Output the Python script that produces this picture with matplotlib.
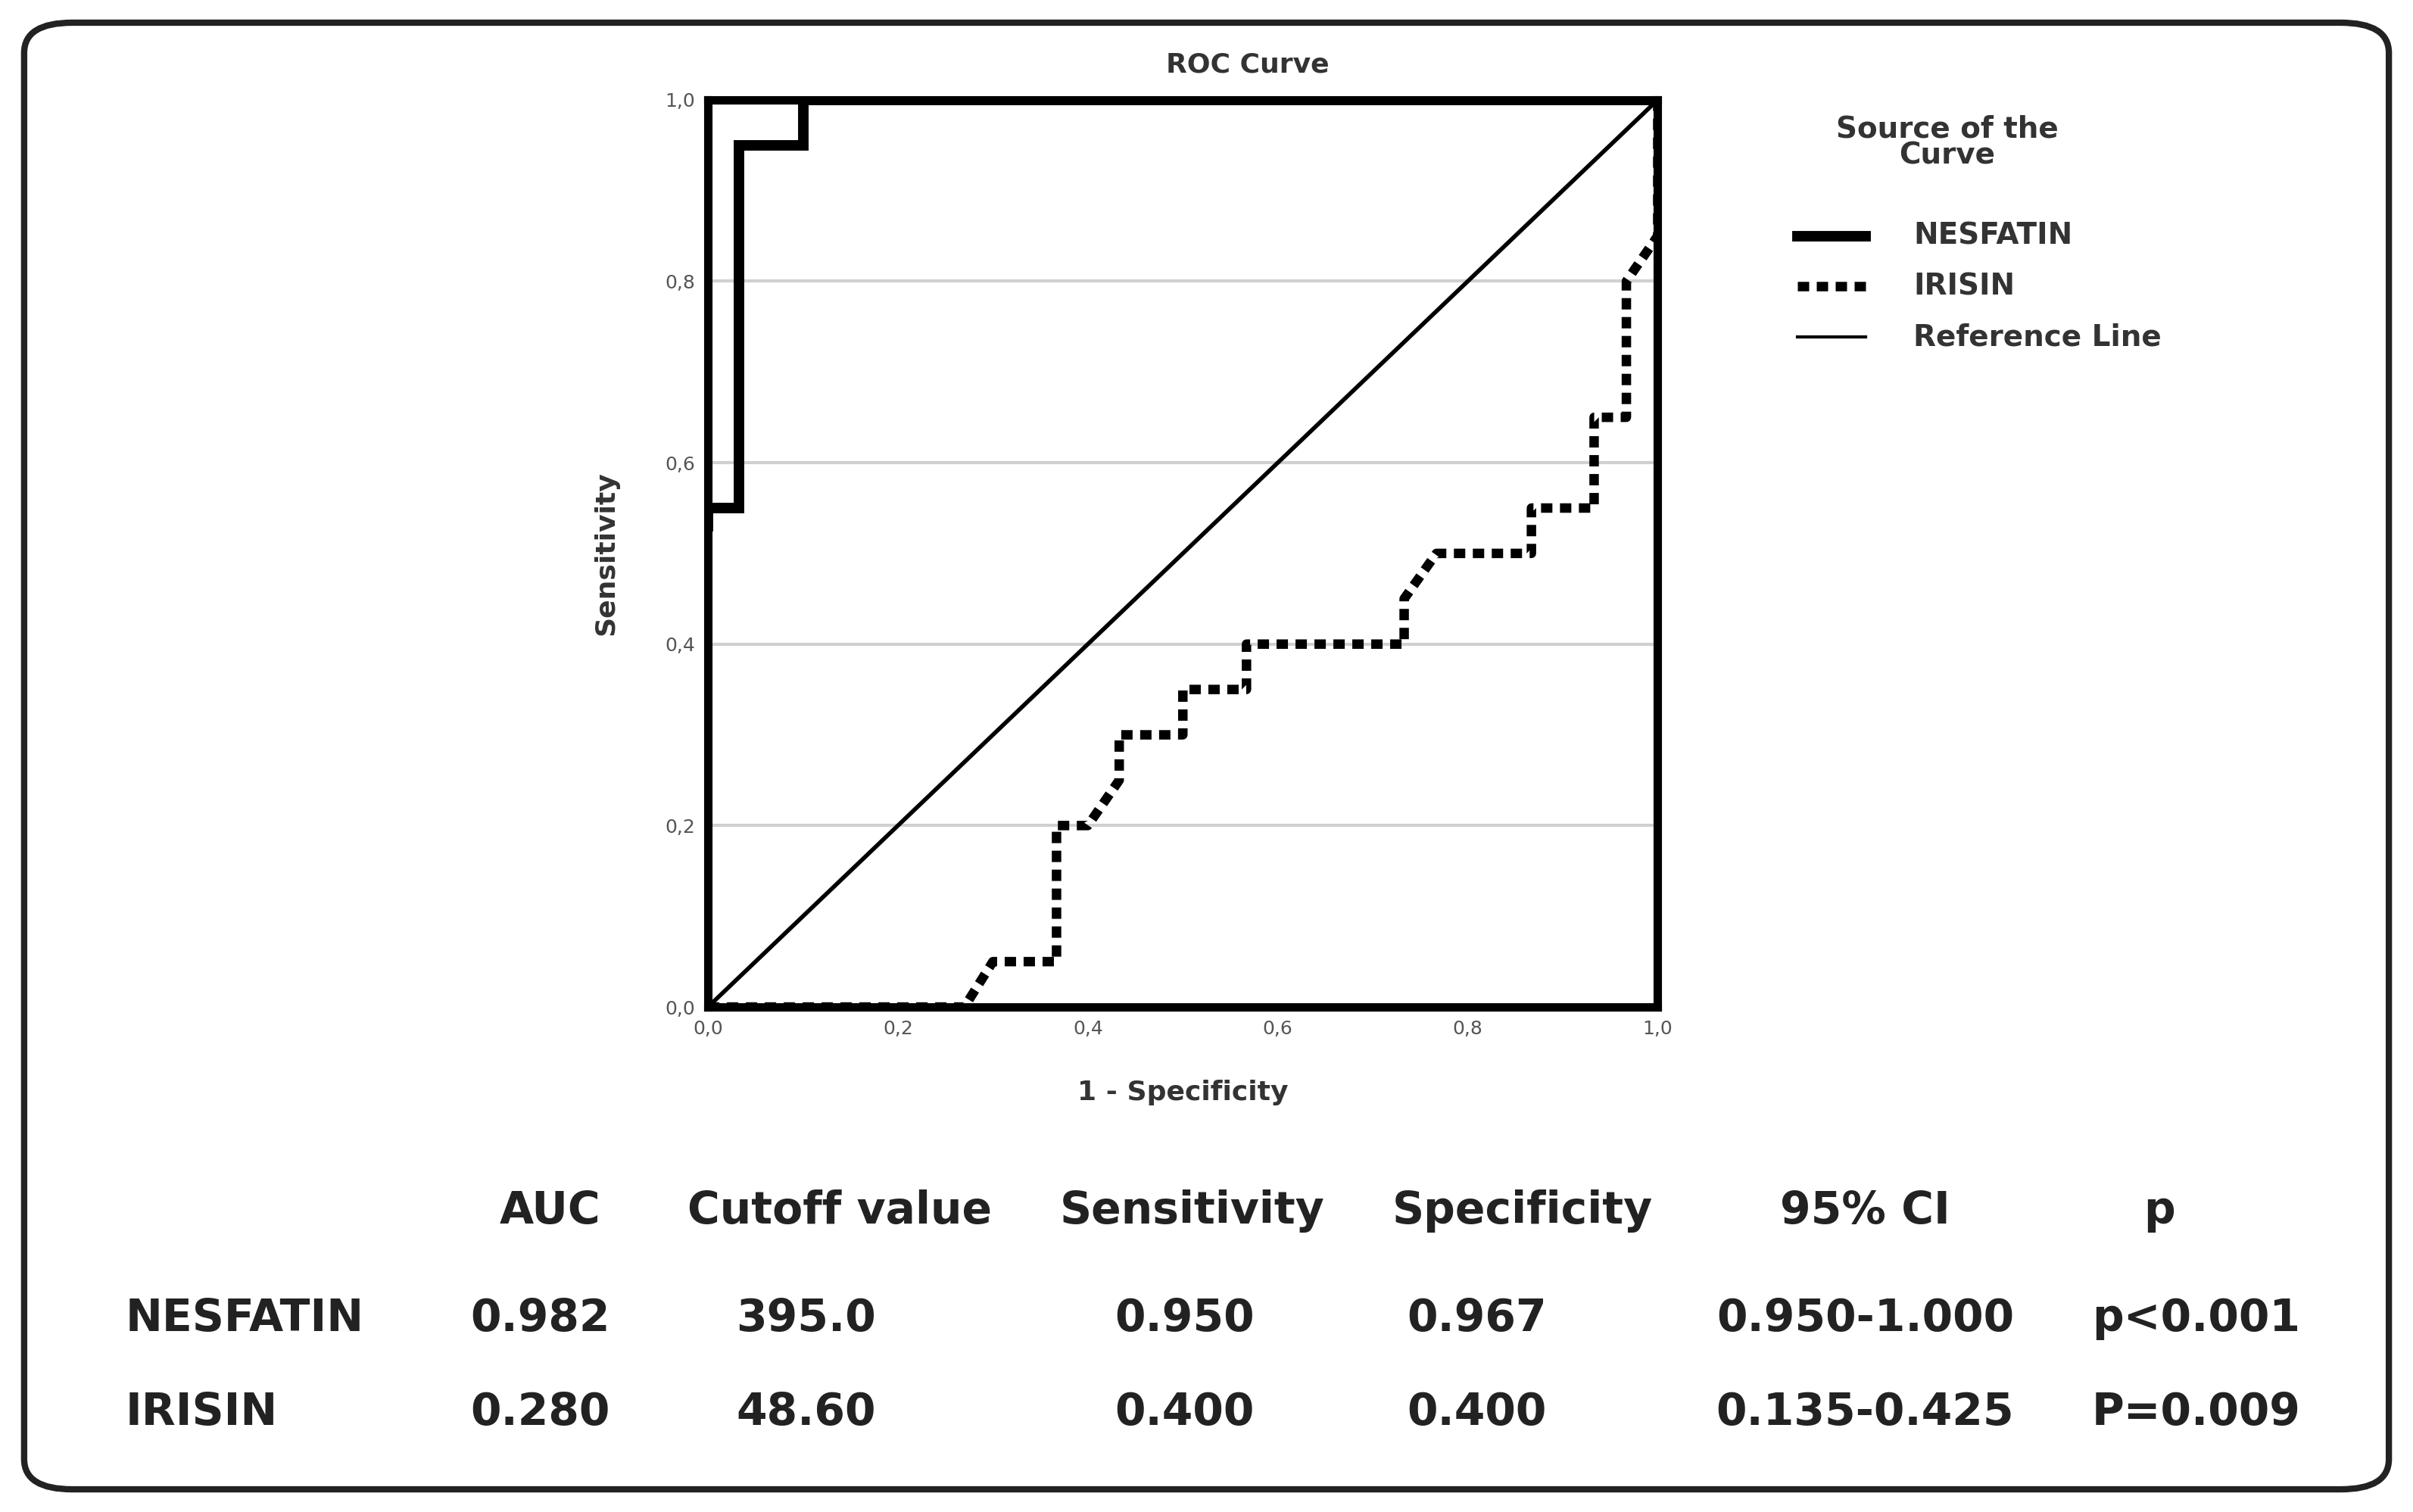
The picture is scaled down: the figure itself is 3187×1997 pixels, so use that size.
import matplotlib.pyplot as plt
from matplotlib.patches import FancyBboxPatch

plt.rcParams['font.family'] = ['DejaVu Sans']

# ROC curves
nes_x = [0, 0, 0.033, 0.033, 0.1, 0.1, 1.0]
nes_y = [0.53, 0.55, 0.55, 0.95, 0.95, 1.0, 1.0]
iri_x = [0, 0.27, 0.30, 0.367, 0.367, 0.40, 0.433, 0.433, 0.50, 0.50, 0.567, 0.567,
         0.733, 0.733, 0.767, 0.867, 0.867, 0.933, 0.933, 0.967, 0.967, 1.0, 1.0]
iri_y = [0, 0, 0.05, 0.05, 0.20, 0.20, 0.25, 0.30, 0.30, 0.35, 0.35, 0.40,
         0.40, 0.45, 0.50, 0.50, 0.55, 0.55, 0.65, 0.65, 0.80, 0.85, 1.0]
ticks = [0.0, 0.2, 0.4, 0.6, 0.8, 1.0]
tick_labels = ['0,0', '0,2', '0,4', '0,6', '0,8', '1,0']

# summary table
headers = ['AUC', 'Cutoff value', 'Sensitivity', 'Specificity', '95% CI', 'p']
rows = ['NESFATIN', 'IRISIN']
auc = ['0.982', '0.280']
cutoff = ['395.0', '48.60']
sens = ['0.950', '0.400']
spec = ['0.967', '0.400']
ci = ['0.950-1.000', '0.135-0.425']
pval = ['p<0.001', 'P=0.009']

fig = plt.figure(figsize=(15.935, 9.985), dpi=200)
fig.patches.append(FancyBboxPatch((0.01, 0.015), 0.98, 0.97, boxstyle='round,pad=0,rounding_size=0.02',
                                  transform=fig.transFigure, fill=False, lw=3, ec='#222222'))

ax = fig.add_axes([0.2934, 0.334, 0.3936, 0.600])
ax.plot([0, 1], [0, 1], color='black', lw=2)
ax.plot(iri_x, iri_y, color='black', lw=4.5, ls=(0, (1.2, 0.8)))
ax.plot(nes_x, nes_y, color='black', lw=5, solid_joinstyle='miter')
ax.set_xlim(0, 1)
ax.set_ylim(0, 1)
ax.set_xticks(ticks, tick_labels, fontsize=9, color='#555555')
ax.set_yticks(ticks, tick_labels, fontsize=9, color='#555555')
ax.tick_params(length=0, pad=6)
ax.yaxis.grid(True, color='#d0d0d0', lw=1.5)
ax.set_axisbelow(True)
for s in ax.spines.values():
    s.set_linewidth(4)
fig.text(0.517, 0.957, 'ROC Curve', ha='center', va='center', fontsize=13, fontweight='bold', color='#333333')
ax.set_xlabel('1 - Specificity', fontsize=13, fontweight='bold', color='#333333', labelpad=20)
ax.set_ylabel('Sensitivity', fontsize=13, fontweight='bold', color='#333333', labelpad=22)

# legend
fig.text(0.807, 0.906, 'Source of the\nCurve', ha='center', va='center', fontsize=14,
         fontweight='bold', color='#333333', linespacing=0.9)
leg_items = [('NESFATIN', '-', 5), ('IRISIN', (0, (1.2, 0.8)), 4.5), ('Reference Line', '-', 1.5)]
for i, (lab, ls, lw) in enumerate(leg_items):
    y = 0.844 - i * 0.0335
    fig.add_artist(plt.Line2D([0.745, 0.773], [y, y], color='black', lw=lw, ls=ls,
                              transform=fig.transFigure))
    fig.text(0.793, y, lab, va='center', fontsize=14, fontweight='bold', color='#333333')

# table
hx = [0.228, 0.348, 0.494, 0.631, 0.773, 0.895]
for x, h in zip(hx, headers):
    fig.text(x, 0.199, h, ha='center', va='center', fontsize=21, fontweight='bold', color='#222222')
vx = [0.224, 0.334, 0.491, 0.612, 0.773, 0.910]
for r, y in enumerate([0.128, 0.066]):
    fig.text(0.052, y, rows[r], ha='left', va='center', fontsize=21, fontweight='bold', color='#222222')
    for x, v in zip(vx, [auc[r], cutoff[r], sens[r], spec[r], ci[r], pval[r]]):
        fig.text(x, y, v, ha='center', va='center', fontsize=21, fontweight='bold', color='#222222')

fig.savefig('out.png', dpi=200, facecolor='white')
